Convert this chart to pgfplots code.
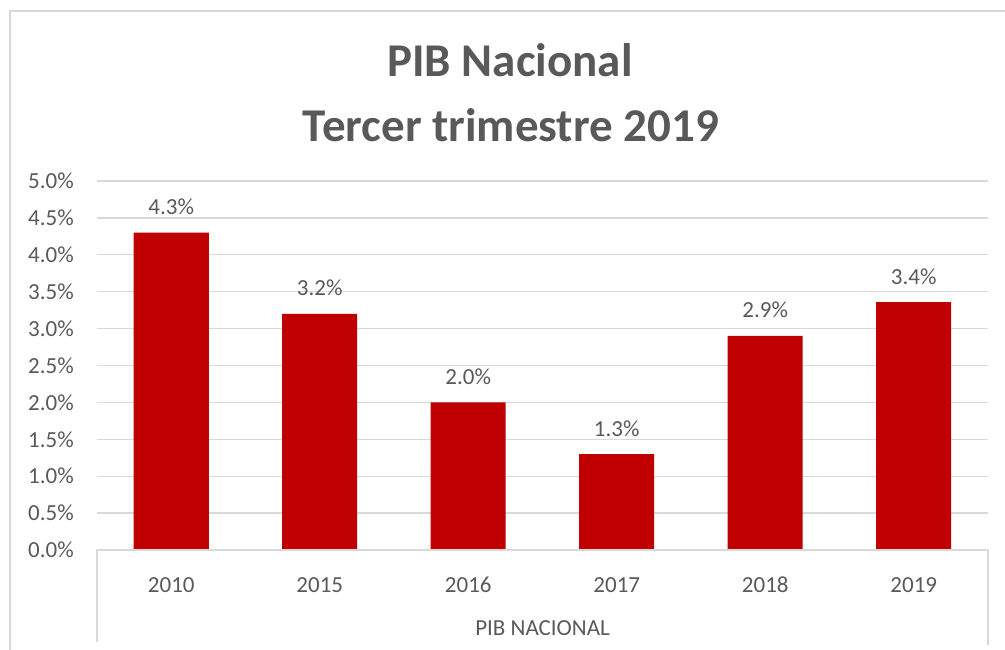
\documentclass[border=0pt]{standalone}
\usepackage{fontspec}
\setmainfont{Carlito}
\usepackage{pgfplots}
\pgfplotsset{compat=1.18}
\definecolor{txt}{HTML}{595959}
\definecolor{gridc}{HTML}{D9D9D9}
\definecolor{barc}{HTML}{C00000}
\begin{document}
\begin{tikzpicture}[x=1pt,y=1pt]
\useasboundingbox (0,0) rectangle (1005,649);
\draw[gridc, line width=1.3pt] (10,-5) -- (10,638) -- (1010,638);
\node[anchor=base, font=\bfseries\fontsize{47}{52}\selectfont, text=txt] at (510,572) {PIB Nacional};
\node[anchor=base, font=\bfseries\fontsize{47}{52}\selectfont, text=txt] at (511,507) {Tercer trimestre 2019};
\begin{axis}[
  at={(97pt,99pt)}, anchor=south west, scale only axis,
  width=891pt, height=369pt,
  ymin=0, ymax=5, ytick={0,0.5,...,5},
  xmin=-0.5, xmax=5.5, xtick={0,1,2,3,4,5},
  xticklabels={2010,2015,2016,2017,2018,2019},
  ybar, bar width=75pt,
  axis line style={draw=none}, tick style={draw=none},
  ymajorgrids, grid style={gridc, line width=1.3pt},
  /pgf/number format/assume math mode=true,
  yticklabel={\pgfmathprintnumber[fixed,fixed zerofill,precision=1]{\tick}\%},
  ticklabel style={font=\fontsize{23}{23}\selectfont, text=txt},
  yticklabel style={anchor=east, inner sep=0pt, xshift=-23pt},
  xticklabel style={anchor=base, inner sep=0pt, yshift=-38pt},
  xlabel={PIB NACIONAL},
  xlabel style={at={(axis description cs:0.5,0)}, anchor=base, inner sep=0pt, yshift=-85pt, font=\fontsize{23}{23}\selectfont, text=txt},
  point meta=explicit symbolic,
  nodes near coords={\pgfplotspointmeta},
  every node near coord/.append style={anchor=base, inner sep=0pt, yshift=18pt, font=\fontsize{23}{23}\selectfont, text=txt},
  clip=false,
]
\addplot[fill=barc, draw=none] coordinates {
  (0,4.3) [4.3\%]
  (1,3.2) [3.2\%]
  (2,2.0) [2.0\%]
  (3,1.3) [1.3\%]
  (4,2.9) [2.9\%]
  (5,3.36) [3.4\%]
};
\end{axis}
\draw[gridc, line width=1.3pt] (97,7) -- (97,99) -- (988,99) -- (988,4);
\end{tikzpicture}
\end{document}
